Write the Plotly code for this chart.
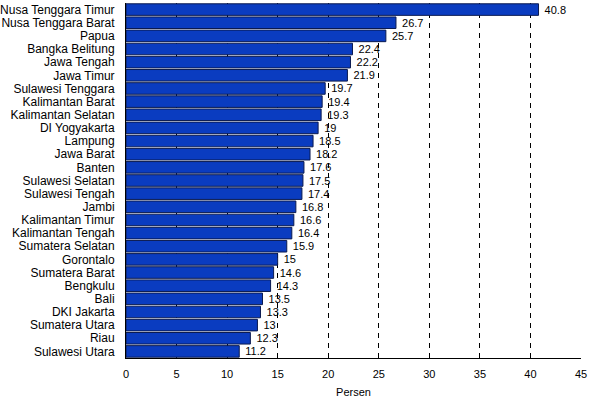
import plotly.graph_objects as go

provinces = ["Nusa Tenggara Timur", "Nusa Tenggara Barat", "Papua", "Bangka Belitung",
             "Jawa Tengah", "Jawa Timur", "Sulawesi Tenggara", "Kalimantan Barat",
             "Kalimantan Selatan", "DI Yogyakarta", "Lampung", "Jawa Barat", "Banten",
             "Sulawesi Selatan", "Sulawesi Tengah", "Jambi", "Kalimantan Timur",
             "Kalimantan Tengah", "Sumatera Selatan", "Gorontalo", "Sumatera Barat",
             "Bengkulu", "Bali", "DKI Jakarta", "Sumatera Utara", "Riau", "Sulawesi Utara"]
values = [40.8, 26.7, 25.7, 22.4, 22.2, 21.9, 19.7, 19.4, 19.3, 19, 18.5, 18.2, 17.6,
          17.5, 17.4, 16.8, 16.6, 16.4, 15.9, 15, 14.6, 14.3, 13.5, 13.3, 13, 12.3, 11.2]
x_ticks = [0, 5, 10, 15, 20, 25, 30, 35, 40, 45]
labels = [f" {v:g}" for v in values]

fig = go.Figure(go.Bar(
    x=values, y=provinces, orientation="h",
    marker=dict(color="#0a3cc0", line=dict(color="#0a1a50", width=1)),
    text=labels, textposition="outside", constraintext="none", cliponaxis=False,
    textfont=dict(size=11, color="black", family="Liberation Sans, Arial"),
))

fig.update_layout(
    width=592, height=400,
    margin=dict(l=126, r=11, t=3, b=42),
    paper_bgcolor="white", plot_bgcolor="white",
    bargap=0.12, showlegend=False,
    font=dict(family="Liberation Sans, Arial", size=12, color="black"),
)
fig.update_xaxes(
    range=[0, 45], tickmode="array", tickvals=x_ticks, ticktext=[str(t) for t in x_ticks],
    showgrid=True, gridcolor="black", gridwidth=1, griddash="5px,5px",
    showline=True, linecolor="black", linewidth=1, ticks="", zeroline=False,
    title=dict(text="Persen", font=dict(size=11), standoff=9),
    tickfont=dict(size=11), ticklabelstandoff=6, automargin=False,
)
fig.update_yaxes(
    categoryorder="array", categoryarray=provinces[::-1],
    tickmode="array", tickvals=provinces, ticktext=provinces,
    showline=True, linecolor="black", linewidth=1, ticks="", showgrid=False,
    tickfont=dict(size=12), ticklabelstandoff=8, automargin=False,
)

fig.write_html("out.html")
